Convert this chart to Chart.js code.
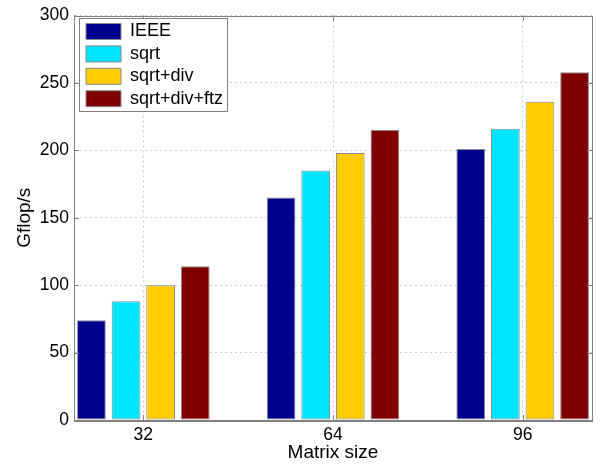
<!DOCTYPE html>
<html>
<head>
<meta charset="utf-8">
<script src="https://cdn.jsdelivr.net/npm/chart.js@4"></script>
<style>
  html, body { margin: 0; padding: 0; background: #fff; }
  #wrap { width: 600px; height: 466px; }
</style>
</head>
<body>
<div id="wrap"><canvas id="c" width="600" height="466"></canvas></div>
<script>
const matrixSizes = [32, 64, 96];
const seriesNames = ['IEEE', 'sqrt', 'sqrt+div', 'sqrt+div+ftz'];
const ieee = [74, 165, 201];
const sqrtVals = [88, 185, 216];
const sqrtDiv = [100, 198, 236];
const sqrtDivFtz = [114, 215, 258];
const yTicks = [0, 50, 100, 150, 200, 250, 300];
const xTicks = [32, 64, 96];

const colors = ['#00008f', '#00e5ff', '#ffcc00', '#800000'];
const allSeries = [ieee, sqrtVals, sqrtDiv, sqrtDivFtz];

const FONT = "'Liberation Sans', Arial, Helvetica, sans-serif";

const framePlugin = {
  id: 'frame',
  afterLayout(chart) {
    const lg = chart.legend;
    const a = chart.chartArea;
    if (lg) {
      const pad = lg.options.labels.padding;
      lg.left = a.left + 12 - pad;
      lg.top = a.top + 7 - pad;
    }
  },
  afterDraw(chart) {
    const ctx = chart.ctx;
    const a = chart.chartArea;
    const ys = chart.scales.y, xs = chart.scales.x;
    ctx.save();
    ctx.strokeStyle = '#808080';
    ctx.lineWidth = 1;
    ctx.beginPath();
    yTicks.forEach(v => {
      const py = Math.round(ys.getPixelForValue(v)) + 0.5;
      ctx.moveTo(a.left, py); ctx.lineTo(a.left + 5, py);
      ctx.moveTo(a.right, py); ctx.lineTo(a.right - 5, py);
    });
    xTicks.forEach(v => {
      const px = Math.round(xs.getPixelForValue(v)) + 0.5;
      ctx.moveTo(px, a.bottom); ctx.lineTo(px, a.bottom - 5);
      ctx.moveTo(px, a.top); ctx.lineTo(px, a.top + 5);
    });
    ctx.stroke();
    ctx.strokeRect(Math.round(a.left) + 0.5, Math.round(a.top) + 0.5,
                   Math.round(a.right - a.left), Math.round(a.bottom - a.top));
    const lg = chart.legend;
    if (lg && lg.legendHitBoxes && lg.legendHitBoxes.length) {
      let l = Infinity, t = Infinity, r = 0, b = 0;
      lg.legendHitBoxes.forEach(h => {
        l = Math.min(l, h.left); t = Math.min(t, h.top);
        r = Math.max(r, h.left + h.width); b = Math.max(b, h.top + h.height);
      });
      const x0 = Math.round(l - 7) + 0.5, y0 = Math.round(t - 5) + 0.5;
      const x1 = Math.round(r + 4) + 0.5, y1 = Math.round(b + 3) + 0.5;
      ctx.fillStyle = '#ffffff';
      ctx.fillRect(x0, y0, x1 - x0, y1 - y0);
      ctx.strokeStyle = '#808080';
      ctx.strokeRect(x0, y0, x1 - x0, y1 - y0);
      ctx.restore();
      lg.draw();
      return;
    }
    ctx.restore();
  }
};

new Chart(document.getElementById('c'), {
  type: 'bar',
  data: {
    datasets: seriesNames.map((name, i) => ({
      label: name,
      data: allSeries[i].map((v, j) => ({ x: matrixSizes[j], y: v })),
      backgroundColor: colors[i],
      borderColor: '#8a8a8a',
      borderWidth: 1,
      borderSkipped: false,
      categoryPercentage: 0.73,
      barPercentage: 0.83
    }))
  },
  options: {
    responsive: false,
    animation: false,
    devicePixelRatio: 1,
    layout: { padding: { top: 9, right: 8, left: 0, bottom: 0 } },
    plugins: {
      legend: {
        position: 'chartArea',
        align: 'start',
        labels: {
          boxWidth: 35,
          boxHeight: 16,
          padding: 4.4,
          color: '#000',
          font: { family: FONT, size: 18 }
        }
      },
      tooltip: { enabled: false }
    },
    scales: {
      x: {
        type: 'linear',
        min: 20.3,
        max: 107.7,
        offset: false,
        afterBuildTicks(scale) { scale.ticks = xTicks.map(v => ({ value: v })); },
        afterFit(scale) { scale.height = 46; },
        grid: {
          offset: false,
          drawTicks: false,
          color: '#cfcfcf',
          lineWidth: 1
        },
        border: { display: true, color: '#808080', dash: [2, 3], width: 1 },
        ticks: {
          padding: 5,
          color: '#000',
          font: { family: FONT, size: 17.5 },
          callback: v => String(v)
        },
        title: {
          display: true,
          text: 'Matrix size',
          color: '#000',
          font: { family: FONT, size: 19 },
          padding: { top: 0, bottom: 2 }
        }
      },
      y: {
        min: 0,
        max: 300,
        afterBuildTicks(scale) { scale.ticks = yTicks.map(v => ({ value: v })); },
        afterFit(scale) { scale.width = 74; },
        grid: {
          drawTicks: false,
          color: '#cfcfcf',
          lineWidth: 1
        },
        border: { display: true, color: '#808080', dash: [2, 3], width: 1 },
        ticks: {
          padding: 5,
          color: '#000',
          font: { family: FONT, size: 17.5 }
        },
        title: {
          display: true,
          text: 'Gflop/s',
          color: '#000',
          font: { family: FONT, size: 19 },
          padding: { top: 13, bottom: 0 }
        }
      }
    }
  },
  plugins: [framePlugin]
});
</script>
</body>
</html>
